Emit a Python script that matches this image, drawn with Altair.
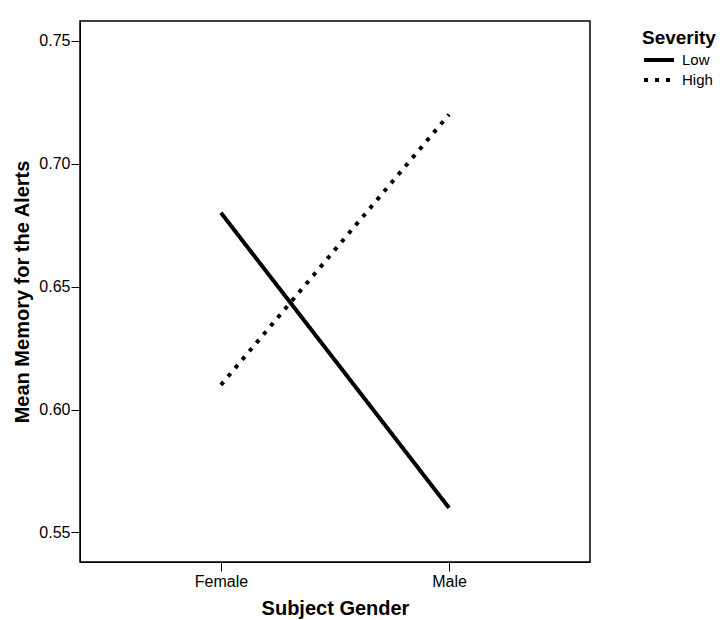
import altair as alt
import pandas as pd

genders = ["Female", "Male"]
severity = ["Low", "Low", "High", "High"]
gender_col = ["Female", "Male", "Female", "Male"]
memory = [0.680, 0.560, 0.610, 0.720]

df = pd.DataFrame({"Subject Gender": gender_col, "Severity": severity, "Memory": memory})

FONT = "Liberation Sans"

chart = alt.Chart(df).mark_line(strokeWidth=4, color="black", strokeCap="butt").encode(
    x=alt.X("Subject Gender:N", sort=genders,
            scale=alt.Scale(type="point", padding=0.618),
            axis=alt.Axis(title="Subject Gender", labelAngle=0, labelFontSize=16,
                          titleFontSize=20, titleFont=FONT, labelFont=FONT,
                          titleFontWeight="bold", tickSize=9, labelPadding=2,
                          titlePadding=9, domainColor="black", tickColor="black",
                          labelColor="black", titleColor="black", grid=False)),
    y=alt.Y("Memory:Q",
            scale=alt.Scale(domain=[0.538, 0.758], nice=False, zero=False),
            axis=alt.Axis(title="Mean Memory for the Alerts", values=[0.55, 0.60, 0.65, 0.70, 0.75],
                          format=".2f", labelFontSize=16, titleFontSize=20,
                          titleFont=FONT, labelFont=FONT, titleFontWeight="bold",
                          tickSize=9, labelPadding=1, titlePadding=6,
                          domainColor="black", tickColor="black",
                          labelColor="black", titleColor="black", grid=False)),
    strokeDash=alt.StrokeDash("Severity:N",
                              scale=alt.Scale(domain=["Low", "High"], range=[[1, 0], [4, 7]]),
                              legend=alt.Legend(title="Severity", orient="none", legendX=562,
                                                legendY=8, titleFontSize=19, titleFont=FONT,
                                                titleFontWeight="bold", labelFont=FONT,
                                                labelFontSize=15, symbolType="stroke",
                                                symbolSize=900, symbolStrokeWidth=4,
                                                symbolStrokeColor="black", labelColor="black",
                                                titleColor="black", rowPadding=0, clipHeight=20,
                                                titlePadding=2, labelOffset=6)),
    detail="Severity:N",
).properties(
    width=510, height=541,
    autosize=alt.AutoSizeParams(type="none"),
    padding={"left": 80, "top": 21, "right": 132, "bottom": 58},
    background="white",
).configure_view(stroke="black", strokeWidth=1.5)

chart.save("out.html", embed_options={"renderer": "svg", "actions": False})
